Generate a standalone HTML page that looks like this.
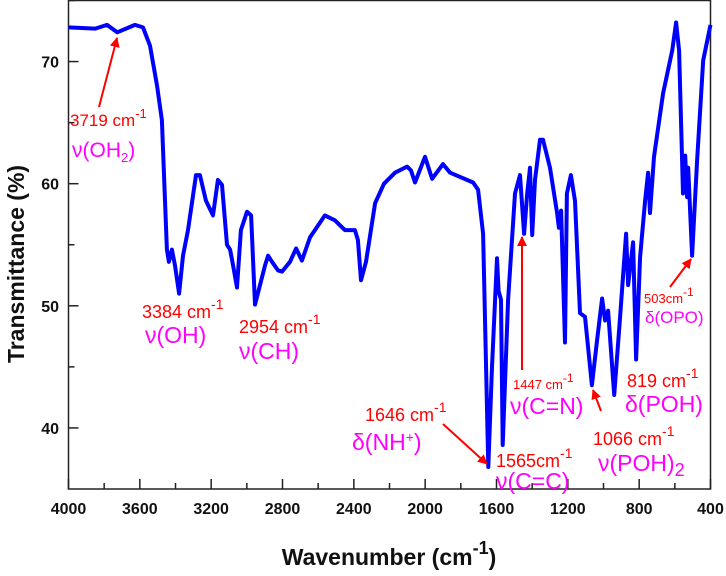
<!DOCTYPE html>
<html><head><meta charset="utf-8"><style>
body{margin:0;background:#fff}
svg text{font-family:"Liberation Sans",Arial,sans-serif}
.tk{font-weight:bold;font-size:16px;fill:#111}
.red{fill:#f00}
.mag{fill:#f0f}
</style></head><body>
<svg id="chart" width="726" height="571" viewBox="0 0 726 571" xmlns="http://www.w3.org/2000/svg">
<defs><marker id="ah" viewBox="0 0 10 10" refX="9" refY="5" markerWidth="5" markerHeight="5" orient="auto"><path d="M0,0L10,5L0,10z" fill="#f00"/></marker></defs>
<g id="axes"></g>
<path id="spectrum" fill="none" stroke="#0000ff" stroke-width="4" stroke-linejoin="round"/>
<g id="annotations">
<line x1="99" y1="107" x2="117" y2="38" stroke="#f00" stroke-width="2" marker-end="url(#ah)"/>
<text x="70" y="126" class="red" style="font-size:17px">3719 cm<tspan dy="-8" style="font-size:13px">-1</tspan></text>
<text x="72" y="157" class="mag" style="font-size:21px">ν(OH<tspan dy="5" style="font-size:13px">2</tspan><tspan dy="-5">)</tspan></text>
<text x="142" y="318" class="red" style="font-size:18px">3384 cm<tspan dy="-9" style="font-size:14px">-1</tspan></text>
<text x="145" y="343" class="mag" style="font-size:23px">ν(OH)</text>
<text x="239" y="333" class="red" style="font-size:18px">2954 cm<tspan dy="-9" style="font-size:14px">-1</tspan></text>
<text x="239" y="359" class="mag" style="font-size:23px">ν(CH)</text>
<text x="365" y="421" class="red" style="font-size:18px">1646 cm<tspan dy="-9" style="font-size:14px">-1</tspan></text>
<text x="352" y="450" class="mag" style="font-size:23px">δ(NH<tspan dy="-8" style="font-size:14px">+</tspan><tspan dy="8">)</tspan></text>
<line x1="443" y1="424" x2="487" y2="464" stroke="#f00" stroke-width="2" marker-end="url(#ah)"/>
<text x="496" y="467" class="red" style="font-size:18px">1565cm<tspan dy="-9" style="font-size:14px">-1</tspan></text>
<text x="496" y="489" class="mag" style="font-size:23px">ν(C=C)</text>
<line x1="522" y1="370" x2="522" y2="237" stroke="#f00" stroke-width="2" marker-end="url(#ah)"/>
<text x="513" y="389" class="red" style="font-size:13px">1447 cm<tspan dy="-7" style="font-size:12px">-1</tspan></text>
<text x="510" y="414" class="mag" style="font-size:23px">ν(C=N)</text>
<line x1="601" y1="411" x2="593" y2="390" stroke="#f00" stroke-width="2" marker-end="url(#ah)"/>
<text x="593" y="445" class="red" style="font-size:18px">1066 cm<tspan dy="-9" style="font-size:14px">-1</tspan></text>
<text x="598" y="471" class="mag" style="font-size:23px">ν(POH)<tspan dy="5" style="font-size:18px">2</tspan></text>
<text x="627" y="387" class="red" style="font-size:18px">819 cm<tspan dy="-9" style="font-size:14px">-1</tspan></text>
<text x="625" y="412" class="mag" style="font-size:23px">δ(POH)</text>
<line x1="670" y1="287" x2="691" y2="259" stroke="#f00" stroke-width="2" marker-end="url(#ah)"/>
<text x="644" y="303" class="red" style="font-size:13px">503cm<tspan dy="-7" style="font-size:12px">-1</tspan></text>
<text x="645" y="323" class="mag" style="font-size:17px">δ(OPO)</text>
</g>
</svg>
<script>
const wavenumbers=[4000,3850,3784,3727,3627,3582,3543,3503,3476,3459,3448,3437,3420,3403,3380,3358,3330,3285,3263,3229,3190,3162,3139,3111,3094,3077,3055,3033,2999,2976,2954,2926,2898,2881,2859,2825,2803,2758,2724,2691,2646,2562,2506,2450,2394,2377,2360,2332,2281,2231,2169,2102,2080,2057,2001,1961,1900,1860,1731,1703,1675,1646,1625,1597,1588,1575,1565,1535,1496,1468,1445,1428,1412,1400,1384,1356,1339,1300,1260,1250,1238,1216,1205,1183,1160,1132,1104,1065,1036,1008,991,974,940,907,873,862,834,817,795,767,750,739,717,666,615,593,576,554,542,531,525,503,475,441,400];
const transmittance=[72.8,72.7,73.0,72.4,73.0,72.8,71.3,68.0,65.2,58.6,54.6,53.6,54.6,53.3,51.0,54.1,56.2,60.7,60.7,58.6,57.4,60.3,59.9,55.0,54.6,53.3,51.5,56.2,57.7,57.4,50.1,51.7,53.3,54.1,53.6,52.9,52.8,53.6,54.7,53.7,55.6,57.4,57.0,56.2,56.2,55.4,52.1,53.6,58.4,60.0,60.9,61.4,61.1,60.1,62.2,60.4,61.6,60.9,60.1,59.5,55.9,36.8,45.0,53.9,51.2,50.5,38.6,50.5,59.2,60.7,55.9,59.2,61.3,55.8,60.3,63.6,63.6,61.3,57.6,56.4,57.8,47.0,59.2,60.7,58.6,49.4,49.1,43.5,47.2,50.6,48.8,49.6,42.7,49.1,55.9,51.7,55.2,45.6,54.0,58.6,60.9,57.6,62.2,67.4,70.9,73.2,70.9,59.2,62.3,58.9,61.3,54.1,61.9,70.1,73.0];
const xTicks=[4000,3600,3200,2800,2400,2000,1600,1200,800,400];
const yTicks=[40,50,60,70];
const L=68.5,R=710.5,T=0.5,B=489;
const xs=w=>L+(4000-w)/3600*(R-L);
const ys=v=>B-(v-35)/40*(B-T);
const NS='http://www.w3.org/2000/svg';
const ax=document.getElementById('axes');
function mk(tag,attrs,parent){const e=document.createElementNS(NS,tag);for(const k in attrs)e.setAttribute(k,attrs[k]);(parent||ax).appendChild(e);return e;}
const frame=mk('rect',{x:L,y:T,width:R-L,height:B-T,fill:'none',stroke:'#222','stroke-width':1.5});


for(let w=4000;w>=400;w-=200){const major=w%400===0;const x=xs(w);
 const t=mk('line',{x1:x,x2:x,y1:B,y2:B-(major?10:6),stroke:'#222','stroke-width':1.5});
 
 }
xTicks.forEach(w=>{const t=mk('text',{x:xs(w),y:514,'text-anchor':'middle',class:'tk'});t.textContent=w;
 
 });
for(let v=40;v<=75;v+=5){const major=v%10===0;const y=ys(v);
 const t=mk('line',{x1:L,x2:L+(major?10:6),y1:y,y2:y,stroke:'#222','stroke-width':1.5});
 
 }
yTicks.forEach(v=>{const t=mk('text',{x:59,y:ys(v)+6,'text-anchor':'end',class:'tk'});t.textContent=v;
 
 });
const yt=mk('text',{x:0,y:0,transform:'translate(24,264) rotate(-90)','text-anchor':'middle','font-weight':'bold','font-size':'23',fill:'#111'});
yt.textContent='Transmittance (%)';


const xt=mk('text',{x:389,y:565,'text-anchor':'middle','font-weight':'bold','font-size':'23',fill:'#111'});
xt.innerHTML='Wavenumber (cm<tspan dy="-11" font-size="18">-1</tspan><tspan dy="11">)</tspan>';


document.getElementById('spectrum').setAttribute('d',wavenumbers.map((w,i)=>(i?'L':'M')+xs(w).toFixed(1)+','+ys(transmittance[i]).toFixed(1)).join(''));
</script>
</body></html>
